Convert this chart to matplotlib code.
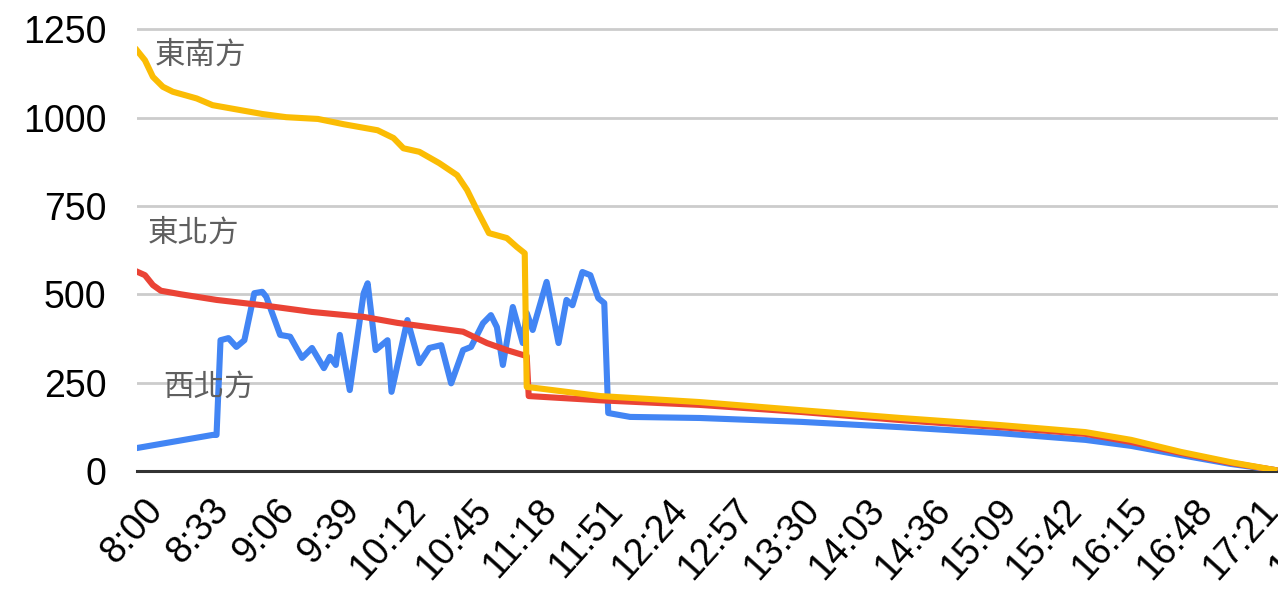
import matplotlib
matplotlib.use("Agg")
import matplotlib.pyplot as plt
from matplotlib.transforms import ScaledTranslation

plt.rcParams['font.family'] = ['Liberation Sans', 'DejaVu Sans']

# minutes after 8:00 and counts for each direction
se_t = [0, 4, 8, 13, 18, 30, 38, 52, 63, 75, 91, 104, 121, 129, 134, 142, 152, 161,
        166, 171, 177, 186, 191, 195, 196, 233, 283, 334, 384, 434, 477, 500, 525, 550, 572]
se_v = [1190, 1162, 1115, 1087, 1073, 1054, 1035, 1021, 1010, 1001, 996, 981, 964, 942,
        913, 903, 871, 837, 795, 738, 673, 659, 634, 616, 238, 212, 195, 172, 150, 130,
        110, 88, 54, 25, 3]

ne_t = [0, 4, 8, 12, 22, 40, 63, 88, 114, 131, 164, 176, 186, 196, 197, 233, 283, 334,
        384, 434, 477, 500, 525, 550, 572]
ne_v = [564, 554, 526, 510, 500, 484, 469, 450, 436, 419, 394, 362, 342, 325, 212, 200,
        187, 167, 144, 124, 105, 82, 51, 23, 3]

nw_t = [0, 38, 40, 42, 46, 50, 54, 59, 63, 65, 72, 77, 83, 88, 94, 97, 100, 102, 107,
        114, 116, 120, 126, 128, 136, 142, 147, 153, 158, 164, 168, 174, 178, 181, 184,
        189, 194, 196, 199, 206, 212, 216, 219, 224, 228, 232, 235, 237, 248, 283, 334,
        384, 434, 477, 500, 525, 550, 572]
nw_v = [65, 102, 102, 370, 376, 351, 370, 503, 507, 493, 385, 380, 320, 348, 291, 323,
        300, 385, 229, 503, 531, 342, 370, 224, 427, 305, 348, 356, 248, 342, 351, 418,
        441, 407, 300, 464, 362, 447, 399, 535, 362, 484, 469, 563, 554, 489, 475, 164,
        153, 150, 139, 124, 107, 88, 71, 45, 20, 3]

tick_min = list(range(0, 600, 33))
tick_lbl = [f"{8 + m // 60}:{m % 60:02d}" for m in tick_min]

fig = plt.figure(figsize=(12.78, 5.92), dpi=100)
ax = fig.add_axes([0.1072, 0.2044, 0.9335, 0.7535])

ax.plot(nw_t, nw_v, color='#4285F4', lw=4.4, solid_joinstyle='round', zorder=3)
ax.plot(ne_t, ne_v, color='#EA4335', lw=4.4, solid_joinstyle='round', zorder=4)
ax.plot(se_t, se_v, color='#FBBC04', lw=4.4, solid_joinstyle='round', zorder=5)

cjk = ['Noto Sans CJK TC', 'DejaVu Sans']
ax.text(9, 1176, '東南方', family=cjk, fontsize=22, color='#5f5f5f', va='center')
ax.text(5.5, 673, '東北方', family=cjk, fontsize=22, color='#5f5f5f', va='center')
ax.text(13, 238, '西北方', family=cjk, fontsize=22, color='#5f5f5f', va='center')

ax.set_xlim(0, 600)
ax.set_ylim(0, 1262)
ax.set_yticks([0, 250, 500, 750, 1000, 1250])
ax.grid(axis='y', color='#CCCCCC', lw=2)
ax.set_axisbelow(True)

for s in ['left', 'right', 'top']:
    ax.spines[s].set_visible(False)
ax.spines['bottom'].set_color('#333333')
ax.spines['bottom'].set_linewidth(2.2)
ax.spines['bottom'].set_zorder(2)

ax.tick_params(axis='y', length=0, pad=22, labelsize=27)
ax.tick_params(axis='x', length=0, pad=24, labelsize=27)
ax.set_xticks(tick_min)
ax.set_xticklabels(tick_lbl, rotation=48, ha='right', va='center',
                   rotation_mode='anchor')
shift = ScaledTranslation(0.2, 0, fig.dpi_scale_trans)
for lbl in ax.get_xticklabels():
    lbl.set_transform(lbl.get_transform() + shift)

fig.savefig('out.png', dpi=100)
